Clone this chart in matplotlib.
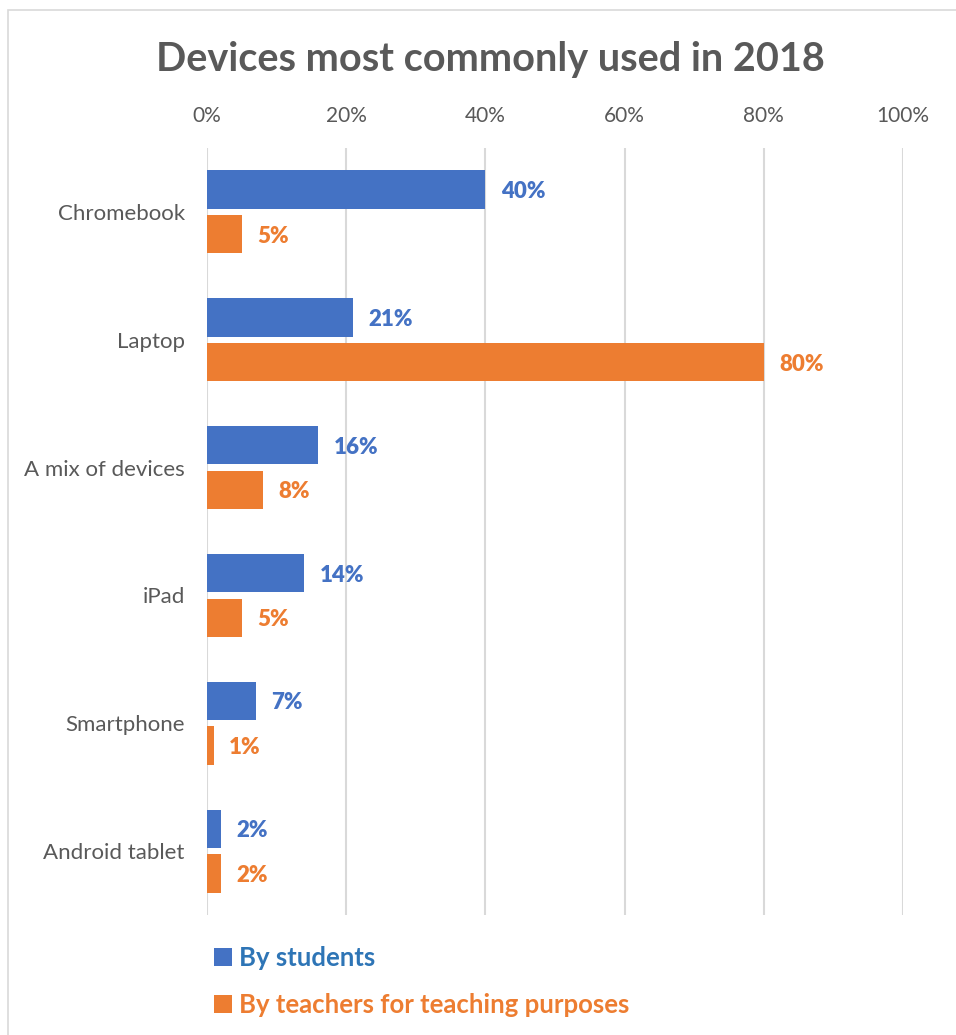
import matplotlib
matplotlib.use("Agg")
import matplotlib.pyplot as plt
from matplotlib.patches import Rectangle
import numpy as np

# values (percent)
categories = ["Chromebook", "Laptop", "A mix of devices", "iPad", "Smartphone", "Android tablet"]
students = [40, 21, 16, 14, 7, 2]
teachers = [5, 80, 8, 5, 1, 2]
series_names = ["By students", "By teachers for teaching purposes"]
xticks = [0, 20, 40, 60, 80, 100]

BLUE = "#4472C4"
ORANGE = "#ED7D31"
GRAY = "#595959"
GRID = "#D9D9D9"

plt.rcParams["font.family"] = ["Lato", "DejaVu Sans"]

fig = plt.figure(figsize=(9.56, 10.35), dpi=100)
ax = fig.add_axes([207 / 956, 1 - 915 / 1035, 696 / 956, 767 / 1035])

# chart border
fig.patches.append(Rectangle((8 / 956, -0.05), 1.1, 1 - 10 / 1035 + 0.05,
                             transform=fig.transFigure, fill=False,
                             edgecolor="#D9D9D9", linewidth=1.2))

y = np.arange(len(categories))
h = 0.30
off = 0.175
b1 = ax.barh(y - off, students, height=h, color=BLUE, label=series_names[0], zorder=3)
b2 = ax.barh(y + off, teachers, height=h, color=ORANGE, label=series_names[1], zorder=3)

for bars, vals, col in ((b1, students, BLUE), (b2, teachers, ORANGE)):
    for rect, v in zip(bars, vals):
        ax.annotate(f"{v}%", (rect.get_width(), rect.get_y() + rect.get_height() / 2),
                    xytext=(11, 0), textcoords="offset points", va="center_baseline",
                    ha="left", fontsize=16, fontweight="heavy", color=col)

ax.set_xlim(0, 100)
ax.set_ylim(len(categories) - 0.5, -0.5)
ax.set_xticks(xticks)
ax.set_xticklabels([f"{t}%" for t in xticks])
ax.set_yticks(y)
ax.set_yticklabels(categories)
ax.xaxis.tick_top()
ax.tick_params(axis="x", length=0, pad=16, labelsize=15, labelcolor=GRAY)
ax.tick_params(axis="y", length=0, pad=16, labelsize=16, labelcolor=GRAY)
ax.grid(axis="x", color=GRID, linewidth=1.5, zorder=0)
for s in ax.spines.values():
    s.set_visible(False)

fig.text(490 / 956, 1 - 60 / 1035, "Devices most commonly used in 2018",
         ha="center", va="center", fontsize=28.5, fontweight="bold", color=GRAY)

leg = fig.legend(handles=[b1, b2], loc="upper left",
                 bbox_to_anchor=(191 / 956, 1 - 923 / 1035), frameon=False,
                 prop={"size": 18.5, "weight": "bold"}, handlelength=0.7,
                 handleheight=0.7, handletextpad=0.25, labelspacing=0.9)
leg.get_texts()[0].set_color("#2E75B6")
leg.get_texts()[1].set_color(ORANGE)

fig.savefig("out.png", dpi=100)
